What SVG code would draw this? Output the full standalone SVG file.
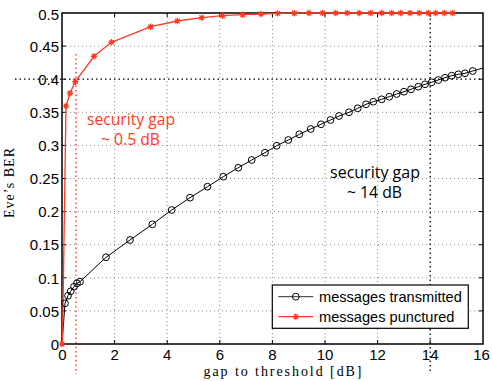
<svg xmlns="http://www.w3.org/2000/svg" xmlns:xlink="http://www.w3.org/1999/xlink" width="492" height="381" viewBox="0 0 492 381">
<style>
.grid{stroke:#8a8a8a;stroke-width:1;stroke-dasharray:1 3;fill:none}
.bdot{stroke:#000;stroke-width:1.3;stroke-dasharray:1.5 3;fill:none}
.rdot{stroke:#ff3b22;stroke-width:1.4;stroke-dasharray:1.5 3;fill:none}
.tick{font-family:"Liberation Sans",Arial,sans-serif;font-size:15px;fill:#000}
.lab{font-family:"Liberation Serif","DejaVu Serif",serif;font-size:14px;fill:#000}
.note{font-family:"Open Sans","Liberation Sans",sans-serif;font-size:16px}
.leg{font-family:"Liberation Sans",Arial,sans-serif;font-size:14.6px;fill:#000}
.blk{stroke:#000;stroke-width:1;fill:none}
.red{stroke:#ff3b22;stroke-width:1.3;fill:none}
</style>
<defs>
<g id="circ"><circle r="3.4" fill="none" stroke="#000" stroke-width="1"/></g>
<g id="star"><path d="M-3.2,0H3.2M0,-3.2V3.2M-2.3,-2.3L2.3,2.3M-2.3,2.3L2.3,-2.3" stroke="#ff3b22" stroke-width="1.2"/><circle r="1.8" fill="#ff3b22"/></g>
</defs>
<rect width="492" height="381" fill="#fff"/>
<g id="grid">
<path class="grid" d="M114.6,13V344M167.2,13V344M219.8,13V344M272.4,13V344M325,13V344M377.6,13V344"/>
<path class="grid" d="M62,46.1H483M62,112.3H483M62,145.4H483M62,178.5H483M62,211.6H483M62,244.7H483M62,277.8H483M62,310.9H483"/>
</g>
<g id="markers-lines">
<path class="bdot" d="M15,79.2H483"/>
<path class="bdot" d="M430.2,14V373"/>
<path class="rdot" d="M76,54V374"/>
</g>
<g id="axes">
<rect x="62" y="13" width="421" height="331" fill="none" stroke="#000" stroke-width="1.5"/>
<path stroke="#000" stroke-width="1" d="M114.6,344v-4M167.2,344v-4M219.8,344v-4M272.4,344v-4M325,344v-4M377.6,344v-4M430.2,344v-4M114.6,13v4M167.2,13v4M219.8,13v4M272.4,13v4M325,13v4M377.6,13v4M430.2,13v4M62,46.1h4M62,79.2h4M62,112.3h4M62,145.4h4M62,178.5h4M62,211.6h4M62,244.7h4M62,277.8h4M62,310.9h4M483,46.1h-4M483,79.2h-4M483,112.3h-4M483,145.4h-4M483,178.5h-4M483,211.6h-4M483,244.7h-4M483,277.8h-4M483,310.9h-4"/>
<g class="tick" text-anchor="end">
<text x="59" y="20">0.5</text>
<text x="59" y="52">0.45</text>
<text x="59" y="85">0.4</text>
<text x="59" y="118">0.35</text>
<text x="59" y="151">0.3</text>
<text x="59" y="184">0.25</text>
<text x="59" y="217">0.2</text>
<text x="59" y="250">0.15</text>
<text x="59" y="284">0.1</text>
<text x="59" y="317">0.05</text>
<text x="59" y="350">0</text>
</g>
<g class="tick" text-anchor="middle">
<text x="62.5" y="360">0</text>
<text x="114.6" y="360">2</text>
<text x="167.2" y="360">4</text>
<text x="219.8" y="360">6</text>
<text x="272.4" y="360">8</text>
<text x="325" y="360">10</text>
<text x="377.6" y="360">12</text>
<text x="430.2" y="360">14</text>
<text x="481.5" y="360">16</text>
</g>
<text class="lab" x="282.5" y="376" text-anchor="middle" textLength="158" lengthAdjust="spacing">gap to threshold [dB]</text>
<text class="lab" transform="translate(14,183) rotate(-90)" text-anchor="middle" textLength="70" lengthAdjust="spacing">Eve’s BER</text>
</g>
<g id="connectors">
<path class="blk" d="M62,344L65,303.3L68,295.7L70.7,291.3L74,286.7L77,283.3L80,281.7L106,257.3L130,240L152.3,224.3L171.7,210L190,197.7L207.5,186.7L223.3,176.7L238.3,167.7L251.7,160L265,152.7L276.7,145.7L288.3,140L299.3,134.3L310.7,129L321,124.3L330.5,120L339,116L349,112.3L357.7,108.3L366,104.3L373.3,101.7L381.7,99.3L389.3,96.7L396.7,94L404,91.7L411,89.3L418.3,86.7L425,84.3L431.7,82.3L438.3,80L445,77.7L451.7,75.7L458.3,74.3L465,73.3L472.7,71L483,68"/>
<path class="red" d="M62,344L62.5,340L66,106L70,93.3L75.3,81.7L94,56.3L111.5,42.3L150.7,26.7L177.3,21L201.7,17.7L222.7,15.7L242.7,14.7L261,14L277.7,13.4L294.3,13.2L309,13L322.7,13L335.7,13L347.3,13L359.3,13L370.7,13L381.7,13L391.7,13L400.7,13L410,13L419.3,13L428.3,13L435.7,13L444.3,13L452.7,13"/>
</g>
<g id="series-transmitted">
<use xlink:href="#circ" x="65" y="303.3"/><use xlink:href="#circ" x="68" y="295.7"/><use xlink:href="#circ" x="70.7" y="291.3"/><use xlink:href="#circ" x="74" y="286.7"/><use xlink:href="#circ" x="77" y="283.3"/><use xlink:href="#circ" x="80" y="281.7"/><use xlink:href="#circ" x="106" y="257.3"/><use xlink:href="#circ" x="130" y="240"/><use xlink:href="#circ" x="152.3" y="224.3"/><use xlink:href="#circ" x="171.7" y="210"/><use xlink:href="#circ" x="190" y="197.7"/><use xlink:href="#circ" x="207.5" y="186.7"/><use xlink:href="#circ" x="223.3" y="176.7"/><use xlink:href="#circ" x="238.3" y="167.7"/><use xlink:href="#circ" x="251.7" y="160"/><use xlink:href="#circ" x="265" y="152.7"/><use xlink:href="#circ" x="276.7" y="145.7"/><use xlink:href="#circ" x="288.3" y="140"/><use xlink:href="#circ" x="299.3" y="134.3"/><use xlink:href="#circ" x="310.7" y="129"/><use xlink:href="#circ" x="321" y="124.3"/><use xlink:href="#circ" x="330.5" y="120"/><use xlink:href="#circ" x="339" y="116"/><use xlink:href="#circ" x="349" y="112.3"/><use xlink:href="#circ" x="357.7" y="108.3"/><use xlink:href="#circ" x="366" y="104.3"/><use xlink:href="#circ" x="373.3" y="101.7"/><use xlink:href="#circ" x="381.7" y="99.3"/><use xlink:href="#circ" x="389.3" y="96.7"/><use xlink:href="#circ" x="396.7" y="94"/><use xlink:href="#circ" x="404" y="91.7"/><use xlink:href="#circ" x="411" y="89.3"/><use xlink:href="#circ" x="418.3" y="86.7"/><use xlink:href="#circ" x="425" y="84.3"/><use xlink:href="#circ" x="431.7" y="82.3"/><use xlink:href="#circ" x="438.3" y="80"/><use xlink:href="#circ" x="445" y="77.7"/><use xlink:href="#circ" x="451.7" y="75.7"/><use xlink:href="#circ" x="458.3" y="74.3"/><use xlink:href="#circ" x="465" y="73.3"/><use xlink:href="#circ" x="472.7" y="71"/>
</g>
<g id="series-punctured">
<use xlink:href="#star" x="62" y="344"/><use xlink:href="#star" x="66" y="106"/><use xlink:href="#star" x="70" y="93.3"/><use xlink:href="#star" x="75.3" y="81.7"/><use xlink:href="#star" x="94" y="56.3"/><use xlink:href="#star" x="111.5" y="42.3"/><use xlink:href="#star" x="150.7" y="26.7"/><use xlink:href="#star" x="177.3" y="21"/><use xlink:href="#star" x="201.7" y="17.7"/><use xlink:href="#star" x="222.7" y="15.7"/><use xlink:href="#star" x="242.7" y="14.7"/><use xlink:href="#star" x="261" y="14"/><use xlink:href="#star" x="277.7" y="13.4"/><use xlink:href="#star" x="294.3" y="13.2"/><use xlink:href="#star" x="309" y="13"/><use xlink:href="#star" x="322.7" y="13"/><use xlink:href="#star" x="335.7" y="13"/><use xlink:href="#star" x="347.3" y="13"/><use xlink:href="#star" x="359.3" y="13"/><use xlink:href="#star" x="370.7" y="13"/><use xlink:href="#star" x="381.7" y="13"/><use xlink:href="#star" x="391.7" y="13"/><use xlink:href="#star" x="400.7" y="13"/><use xlink:href="#star" x="410" y="13"/><use xlink:href="#star" x="419.3" y="13"/><use xlink:href="#star" x="428.3" y="13"/><use xlink:href="#star" x="435.7" y="13"/><use xlink:href="#star" x="444.3" y="13"/><use xlink:href="#star" x="452.7" y="13"/>
</g>
<g id="annotation-red">
<text class="note" x="131" y="125" text-anchor="middle" fill="#ff3b22" textLength="88" lengthAdjust="spacingAndGlyphs">security gap</text>
<text class="note" x="130.5" y="145" text-anchor="middle" fill="#ff3b22" textLength="59" lengthAdjust="spacingAndGlyphs">~ 0.5 dB</text>
</g>
<g id="annotation-black">
<text class="note" x="375" y="178" text-anchor="middle" fill="#000" textLength="90" lengthAdjust="spacingAndGlyphs">security gap</text>
<text class="note" x="374.5" y="198" text-anchor="middle" fill="#000" textLength="55" lengthAdjust="spacingAndGlyphs">~ 14 dB</text>
</g>
<g id="legend">
<rect x="272.3" y="285" width="196" height="43.3" fill="#fff" stroke="#000" stroke-width="1.2"/>
<path d="M278.3,296.7H313.3" stroke="#555" stroke-width="1.2"/>
<use xlink:href="#circ" x="295.8" y="296.7"/>
<path d="M278.3,316.7H313.3" stroke="#ff3b22" stroke-width="1.2"/>
<use xlink:href="#star" x="295.8" y="316.7"/>
<text class="leg" x="319" y="302">messages transmitted</text>
<text class="leg" x="319" y="322">messages punctured</text>
</g>
</svg>
